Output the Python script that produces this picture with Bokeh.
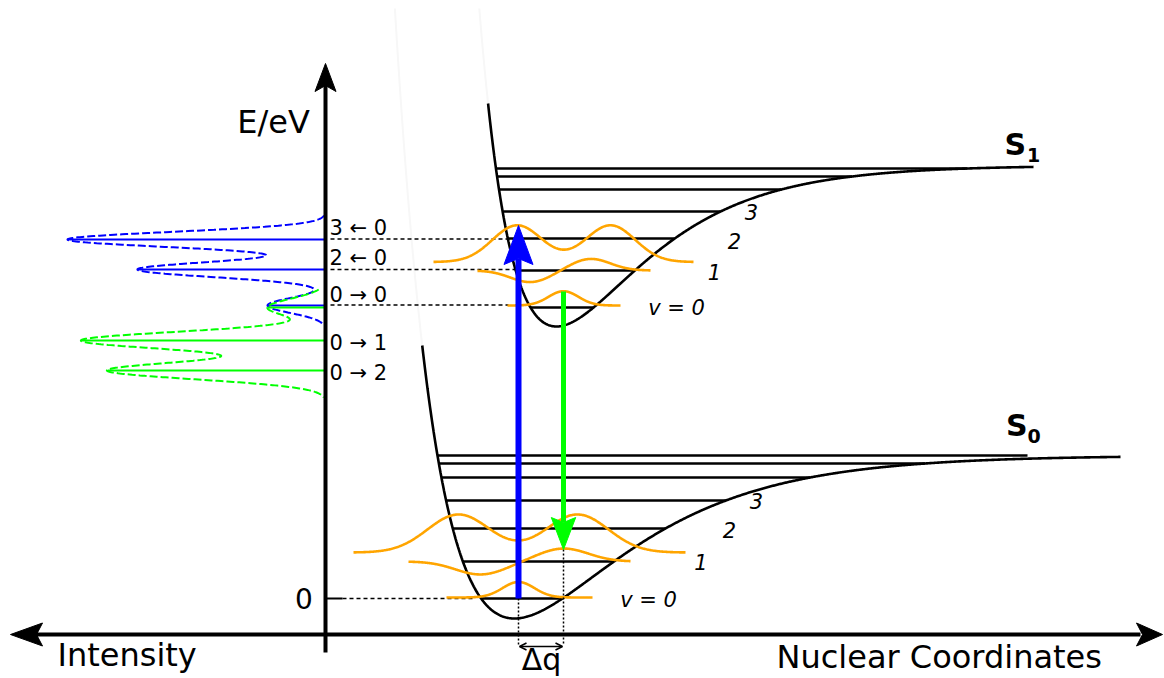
import numpy as np
from bokeh.plotting import figure
from bokeh.models import Range1d, Arrow, OpenHead
from bokeh.core.properties import value
from bokeh.embed import file_html
from bokeh.resources import INLINE

# ---------------- data (picture coordinates, y downwards) ----
# Morse potentials: minimum position, well depth, width parameter
S0_MIN_X, S0_MIN_Y, S0_DEPTH, S0_WIDTH = 514, 618, 163, 0.0090
S1_MIN_X, S1_MIN_Y, S1_DEPTH, S1_WIDTH = 556, 326, 161, 0.01137
S0_TOP_Y, S0_RIGHT_X = 345, 1120
S1_TOP_Y, S1_RIGHT_X = 103, 1033

# vibrational levels (energy, picture y)
S0_LEVELS = [598, 561, 528, 500, 477, 463, 455]
S1_LEVELS = [307, 270, 238, 211, 189, 176, 168]
S0_LEVEL_CAP, S1_LEVEL_CAP = 1027, 967

# vibrational level labels
S0_VLABELS = ["v = 0", "1", "2", "3"]
S0_VLABEL_X = [648, 700.5, 729, 756]
S0_VLABEL_Y = [607, 569, 537, 508]
S1_VLABELS = ["v = 0", "1", "2", "3"]
S1_VLABEL_X = [676, 714, 734, 751]
S1_VLABEL_Y = [315, 279, 248, 219]

# vibrational wavefunctions (sketched as Gaussian lobes)
WAVE_LEVEL = [598, 561, 528, 307, 270, 238]
WAVE_X0 = [446, 408, 353, 507, 477, 433]
WAVE_X1 = [592, 630, 685, 620, 650, 693]
WAVE_TAIL = [-1, 0, 24, -2, 0, 23.5]
WAVE_LOBE_X = [[518], [480, 563], [458, 577], [563], [530, 590], [516.7, 610]]
WAVE_LOBE_A = [[15.5], [-13, 13], [38, 38], [14.3], [-11.7, 11.7], [36.7, 36.7]]
WAVE_SIGMA = [16, 25, 31, 15, 20, 24.7]

# spectra (stick positions and intensities, envelope width)
ABS_Y = [239, 269, 305]
ABS_I = [258, 188, 58]
ABS_SIGMA, ABS_RANGE = 7.5, (215, 323)
EMI_Y = [307, 340, 370]
EMI_I = [58, 244, 218]
EMI_SIGMA, EMI_RANGE = 8.7, (289, 397)

TRANS_LABELS = ["3 \u2190 0", "2 \u2190 0", "0 \u2192 0", "0 \u2192 1", "0 \u2192 2"]
TRANS_LABEL_Y = [235, 265, 302, 350, 380]
GUIDE_Y = [238.5, 269, 304.5]
GUIDE_X_END = [513, 517, 508]

# vertical transitions
ABS_X, ABS_FROM, ABS_TO = 518, 598, 225
EMI_X, EMI_FROM, EMI_TO = 563, 291, 549

AXIS_X, AXIS_Y = 325, 634
ZERO_Y = 598

BLACK, BLUE, GREEN, ORANGE = "#000000", "#0000ff", "#00ff00", "#ffa500"
FONT = value("DejaVu Sans")

# ---------------- helpers ---------------------------------------------------------
def morse(x, x0, y0, de, a):
    return y0 - de * (1 - np.exp(-a * (x - x0))) ** 2

def morse_left(y, x0, y0, de, a):
    s = np.sqrt((y0 - y) / de)
    return x0 - np.log(1 + s) / a

def morse_right(y, x0, y0, de, a, cap):
    s = np.sqrt((y0 - y) / de)
    if s >= 1:
        return cap
    return min(cap, x0 - np.log(1 - s) / a)

p = figure(width=1164, height=678, x_range=Range1d(0, 1164), y_range=Range1d(678, 0),
           output_backend="svg", toolbar_location=None, min_border=0)
p.axis.visible = False
p.grid.visible = False
p.outline_line_color = None
p.background_fill_color = "white"
p.border_fill_color = "white"

S0 = (S0_MIN_X, S0_MIN_Y, S0_DEPTH, S0_WIDTH)
S1 = (S1_MIN_X, S1_MIN_Y, S1_DEPTH, S1_WIDTH)

# faint continuations of the repulsive walls
for prm, top in ((S0, S0_TOP_Y), (S1, S1_TOP_Y)):
    xa, xb = morse_left(8, *prm), morse_left(top, *prm)
    xs = np.linspace(xa, xb, 100)
    p.line(xs, morse(xs, *prm), line_color="#f7f7f7", line_width=2)

# level lines
for prm, levels, cap in ((S0, S0_LEVELS, S0_LEVEL_CAP), (S1, S1_LEVELS, S1_LEVEL_CAP)):
    x0s = [morse_left(y, *prm) for y in levels]
    x1s = [morse_right(y, *prm, cap) for y in levels]
    p.segment(x0=x0s, y0=levels, x1=x1s, y1=levels, line_color=BLACK, line_width=2.6)

# potential curves
for prm, top, right in ((S0, S0_TOP_Y, S0_RIGHT_X), (S1, S1_TOP_Y, S1_RIGHT_X)):
    xs = np.linspace(morse_left(top, *prm), right, 800)
    p.line(xs, morse(xs, *prm), line_color=BLACK, line_width=2.6)

# dashed guides to the spectrum
p.segment(x0=[AXIS_X + 5] * 3, y0=GUIDE_Y, x1=GUIDE_X_END, y1=GUIDE_Y,
          line_color=BLACK, line_width=1.4, line_dash="4 3")
p.segment(x0=[342], y0=[ZERO_Y], x1=[475], y1=[ZERO_Y],
          line_color=BLACK, line_width=1.4, line_dash="4 3")
p.segment(x0=[AXIS_X], y0=[ZERO_Y], x1=[342], y1=[ZERO_Y], line_color=BLACK, line_width=2)

# spectra
for ys0, ii, sig, rng, col in ((ABS_Y, ABS_I, ABS_SIGMA, ABS_RANGE, BLUE),
                               (EMI_Y, EMI_I, EMI_SIGMA, EMI_RANGE, GREEN)):
    yy = np.linspace(rng[0], rng[1], 500)
    inten = np.zeros_like(yy)
    for yc, a in zip(ys0, ii):
        inten += a * np.exp(-(yy - yc) ** 2 / (2 * sig ** 2))
    p.line(AXIS_X - inten, yy, line_color=col, line_width=2, line_dash="8 3")
    p.segment(x0=[AXIS_X] * len(ys0), y0=ys0, x1=[AXIS_X - a for a in ii], y1=ys0,
              line_color=col, line_width=2.2)

# wavefunctions
for lev, xa, xb, tail, lx, la, sig in zip(WAVE_LEVEL, WAVE_X0, WAVE_X1, WAVE_TAIL,
                                          WAVE_LOBE_X, WAVE_LOBE_A, WAVE_SIGMA):
    xs = np.linspace(xa, xb, 400)
    ys = np.full_like(xs, lev + tail, dtype=float)
    for cx, a in zip(lx, la):
        ys -= a * np.exp(-(xs - cx) ** 2 / (2 * sig ** 2))
    p.line(xs, ys, line_color=ORANGE, line_width=2.6)

# vertical dotted lines and delta q
p.segment(x0=[ABS_X, EMI_X], y0=[ABS_FROM, EMI_TO], x1=[ABS_X, EMI_X], y1=[645, 645],
          line_color=BLACK, line_width=1.5, line_dash="2 2")
p.add_layout(Arrow(start=OpenHead(size=7, line_width=1.5), end=OpenHead(size=7, line_width=1.5),
                   x_start=ABS_X + 1, y_start=646, x_end=EMI_X - 1, y_end=646,
                   line_width=1.5, line_color=BLACK))

# transition arrows
p.segment(x0=[ABS_X], y0=[ABS_FROM], x1=[ABS_X], y1=[ABS_TO + 33], line_color=BLUE, line_width=6)
p.patch([ABS_X, ABS_X + 14.5, ABS_X, ABS_X - 14.5], [ABS_TO, ABS_TO + 39, ABS_TO + 33, ABS_TO + 39],
        fill_color=BLUE, line_color=BLUE, line_width=1)
p.segment(x0=[EMI_X], y0=[EMI_FROM], x1=[EMI_X], y1=[EMI_TO - 27], line_color=GREEN, line_width=5)
p.patch([EMI_X, EMI_X + 12.2, EMI_X, EMI_X - 12.2], [EMI_TO, EMI_TO - 32, EMI_TO - 27, EMI_TO - 32],
        fill_color=GREEN, line_color=GREEN, line_width=1)

# axes
p.segment(x0=[AXIS_X], y0=[652], x1=[AXIS_X], y1=[84], line_color=BLACK, line_width=4)
p.patch([AXIS_X, AXIS_X + 10.5, AXIS_X, AXIS_X - 10.5], [63, 91, 85, 91],
        fill_color=BLACK, line_color=BLACK)
p.segment(x0=[34], y0=[AXIS_Y], x1=[1140], y1=[AXIS_Y], line_color=BLACK, line_width=4)
p.patch([10, 42, 36, 42], [AXIS_Y, AXIS_Y - 11.5, AXIS_Y, AXIS_Y + 11.5],
        fill_color=BLACK, line_color=BLACK)
p.patch([1162, 1136, 1142, 1136], [AXIS_Y, AXIS_Y - 11.5, AXIS_Y, AXIS_Y + 11.5],
        fill_color=BLACK, line_color=BLACK)

# texts (y given as the glyphs' bottom edge; shifted for the renderer's baseline handling)
def txt(x, y, t, size, align="left", style="normal"):
    shift = 0.36 * size
    p.text(x=x, y=[v - shift for v in y], text=t, text_font=FONT,
           text_font_size=f"{size}px", text_font_style=style,
           text_align=align, text_baseline="alphabetic", text_color=BLACK)

txt([273], [133], ["E/eV"], 32, align="center")
txt([57], [666], ["Intensity"], 32)
txt([776], [668], ["Nuclear Coordinates"], 32)
txt([541], [670], ["\u0394q"], 30, align="center")
txt([303.5], [608], ["0"], 28, align="center")
txt([329] * 5, TRANS_LABEL_Y, TRANS_LABELS, 21)
txt(S0_VLABEL_X, S0_VLABEL_Y, S0_VLABELS, 21, align="center", style="italic")
txt(S1_VLABEL_X, S1_VLABEL_Y, S1_VLABELS, 21, align="center", style="italic")
txt([1004, 1005.5], [155, 436], ["S", "S"], 30, style="bold")
txt([1026.5, 1027], [161, 442], ["1", "0"], 19, style="bold")

open("out.html", "w").write(file_html(p, INLINE))
